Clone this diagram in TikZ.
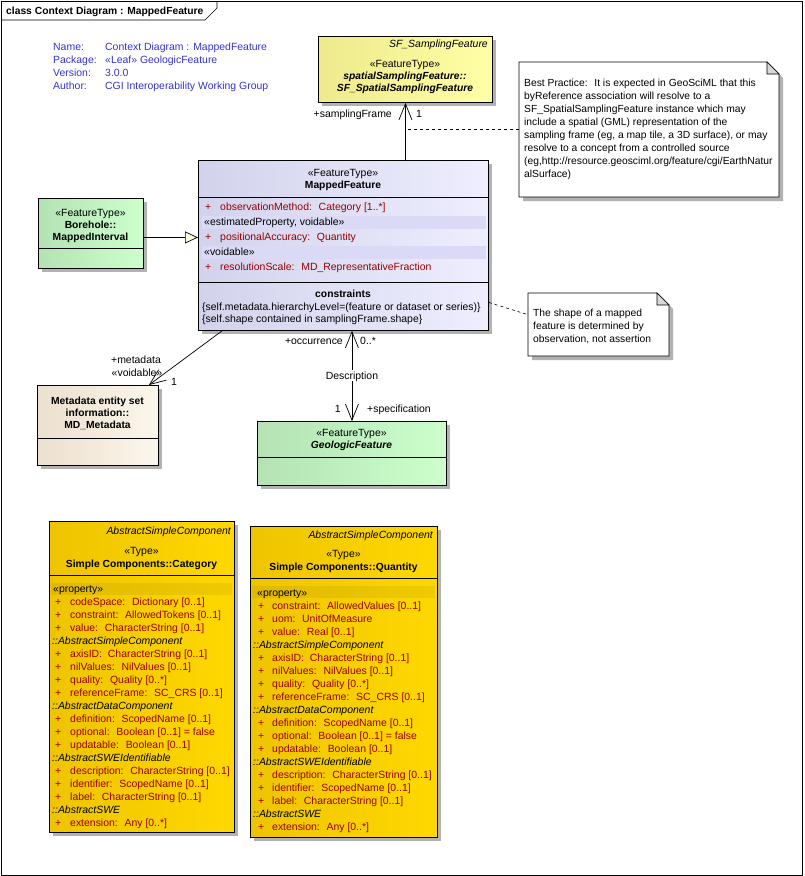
\documentclass[tikz,border=0pt]{standalone}
\usepackage{fontspec}
\setmainfont{Liberation Sans}
\usetikzlibrary{arrows.meta,shadows}

\definecolor{mfLeft}{HTML}{D2D2EC}
\definecolor{mfRight}{HTML}{EEEEFF}
\definecolor{mfBand}{HTML}{DADAF6}
\definecolor{grLeft}{HTML}{B4E2B4}
\definecolor{grRight}{HTML}{CCFFCC}
\definecolor{mdLeft}{HTML}{ECE0CE}
\definecolor{mdRight}{HTML}{FCF6EC}
\definecolor{sfLeft}{HTML}{EEEA8C}
\definecolor{sfRight}{HTML}{FFFFA6}
\definecolor{ylLeft}{HTML}{EEC400}
\definecolor{ylRight}{HTML}{FFD800}
\definecolor{attrRed}{HTML}{990000}
\definecolor{infoBlue}{HTML}{3333CC}

\newcommand\umlfont{\fontsize{10.45}{12.4}\selectfont}
\newcommand\umlboldfont{\fontsize{10.3}{12.4}\selectfont\bfseries}

\tikzset{
  classbox/.style={draw, line width=0.9pt, anchor=north west, inner sep=0pt,
    drop shadow={shadow xshift=4pt, shadow yshift=-4pt, fill=black!30, opacity=1}},
  umltxt/.style={inner sep=0pt, text height=8pt, text depth=1pt, font=\umlfont},
  umlbold/.style={umltxt, font=\umlboldfont},
  umlital/.style={umltxt, font=\umlfont\itshape},
  umlbolditl/.style={umltxt, font=\umlboldfont\itshape},
  umlattr/.style={umltxt, anchor=west, text=attrRed},
  umlplus/.style={umltxt, anchor=west, text=attrRed},
  infotxt/.style={umltxt, anchor=west, text=infoBlue},
  notetxt/.style={inner sep=0pt, align=left, anchor=north west, font=\fontsize{10.3}{13}\selectfont},
  notebox/.style={anchor=north west, inner sep=0pt},
  assoc/.style={line width=0.7pt, -{Straight Barb[length=16pt,width=13pt]}},
  assocboth/.style={line width=0.7pt, {Straight Barb[length=16pt,width=13pt]}-{Straight Barb[length=16pt,width=13pt]}},
  general/.style={line width=0.7pt, -{Triangle[length=13pt,width=12pt,fill=white!88!yellow]}},
  notelink/.style={line width=0.6pt, dash pattern=on 3pt off 3pt}
}

\begin{document}
\begin{tikzpicture}[x=1pt, y=-1pt, font=\umlfont]
\useasboundingbox (0,0) rectangle (804,876);

% diagram frame and title tab
\draw[line width=0.6pt] (1,1) rectangle (802,875);
\draw[line width=0.6pt] (1,20) -- (205,20) -- (217,8) -- (217,1);
\node[umlbold, anchor=west] (frameTitle) at (6,11) {class Context Diagram : MappedFeature};

% diagram properties
\node[infotxt] (infoNameKey) at (53,47) {Name:};
\node[infotxt] (infoName) at (105,47) {Context Diagram : MappedFeature};
\node[infotxt] (infoPackageKey) at (53,60) {Package:};
\node[infotxt] (infoPackage) at (105,60) {«Leaf» GeologicFeature};
\node[infotxt] (infoVersionKey) at (53,73) {Version:};
\node[infotxt] (infoVersion) at (105,73) {3.0.0};
\node[infotxt] (infoAuthorKey) at (53,86) {Author:};
\node[infotxt] (infoAuthor) at (105,86) {CGI Interoperability Working Group};

% SF_SamplingFeature
\node[classbox, left color=sfLeft, right color=sfRight, minimum width=174pt, minimum height=66pt] (sf) at (318,36) {};
\node[umlital, anchor=east] (sfAbstract) at (488,44) {SF\_SamplingFeature};
\node[umltxt] (sfStereo) at (405,64) {«FeatureType»};
\node[umlbolditl] (sfName) at (405,76) {spatialSamplingFeature::};
\node[umlbolditl] (sfNameB) at (405,88) {SF\_SpatialSamplingFeature};

% MappedFeature
\node[classbox, left color=mfLeft, right color=mfRight, minimum width=290pt, minimum height=170pt] (mf) at (198,160) {};
\draw[line width=0.9pt] (198,197) -- (488,197);
\draw[line width=0.9pt] (198,282) -- (488,282);
\fill[mfBand] (202,216) rectangle (486,229);
\fill[mfBand] (202,246) rectangle (486,259);
\node[umltxt] (mfStereo) at (343,173) {«FeatureType»};
\node[umlbold] (mfName) at (343,185) {MappedFeature};
\node[umlplus] (mfP1) at (205,207) {+};
\node[umlattr] (mfA1) at (220,207) {observationMethod:~ Category [1..*]};
\node[umltxt, anchor=west] (mfS2) at (204,222) {«estimatedProperty, voidable»};
\node[umlplus] (mfP2) at (205,237) {+};
\node[umlattr] (mfA2) at (220,237) {positionalAccuracy:~ Quantity};
\node[umltxt, anchor=west] (mfS3) at (204,252) {«voidable»};
\node[umlplus] (mfP3) at (205,267) {+};
\node[umlattr] (mfA3) at (220,267) {resolutionScale:~ MD\_RepresentativeFraction};
\node[umlbold] (mfConstr) at (343,294) {constraints};
\node[umltxt, anchor=west] (mfC1) at (202,307) {\{self.metadata.hierarchyLevel=(feature or dataset or series)\}};
\node[umltxt, anchor=west] (mfC2) at (202,319) {\{self.shape contained in samplingFrame.shape\}};

% Borehole::MappedInterval
\node[classbox, left color=grLeft, right color=grRight, minimum width=105pt, minimum height=70pt] (bh) at (38,198) {};
\draw[line width=0.9pt] (38,248) -- (143,248);
\node[umltxt] (bhStereo) at (90.5,213) {«FeatureType»};
\node[umlbold] (bhName) at (90.5,225) {Borehole::};
\node[umlbold] (bhNameB) at (90.5,237) {MappedInterval};

% MD_Metadata
\node[classbox, left color=mdLeft, right color=mdRight, minimum width=121pt, minimum height=80pt] (md) at (37,385) {};
\draw[line width=0.9pt] (37,438) -- (158,438);
\node[umlbold] (mdName) at (97.5,401) {Metadata entity set};
\node[umlbold] (mdNameB) at (97.5,413) {information::};
\node[umlbold] (mdNameC) at (97.5,425) {MD\_Metadata};

% GeologicFeature
\node[classbox, left color=grLeft, right color=grRight, minimum width=189pt, minimum height=64pt] (gf) at (257,421) {};
\draw[line width=0.9pt] (257,457) -- (446,457);
\node[umltxt] (gfStereo) at (351.5,433) {«FeatureType»};
\node[umlbolditl] (gfName) at (351.5,445) {GeologicFeature};

% Simple Components::Category
\node[classbox, left color=ylLeft, right color=ylRight, minimum width=185pt, minimum height=311pt] (cat) at (49,521) {};
\draw[line width=0.9pt] (49,575) -- (234,575);
\fill[black, fill opacity=0.06] (51,583) rectangle (232,595);
\node[umlital, anchor=east] (catAbstract) at (231,531) {AbstractSimpleComponent};
\node[umltxt] (catStereo) at (141.5,551) {«Type»};
\node[umlbold] (catName) at (141.5,564) {Simple Components::Category};
\node[umltxt, anchor=west] (catProp) at (53,589) {«property»};
\foreach \i/\attrtext in {1/{codeSpace:~ Dictionary [0..1]}, 2/{constraint:~ AllowedTokens [0..1]}, 3/{value:~ CharacterString [0..1]}}{
  \node[umlplus] (catP\i) at (55,{589+13*\i}) {+};
  \node[umlattr] (catA\i) at (70,{589+13*\i}) {\attrtext};
}

% Simple Components::Quantity
\node[classbox, left color=ylLeft, right color=ylRight, minimum width=187pt, minimum height=311pt] (qty) at (250,526) {};
\draw[line width=0.9pt] (250,578) -- (437,578);
\fill[black, fill opacity=0.06] (252,586) rectangle (435,598);
\node[umlital, anchor=east] (qtyAbstract) at (433,535) {AbstractSimpleComponent};
\node[umltxt] (qtyStereo) at (343.5,554) {«Type»};
\node[umlbold] (qtyName) at (343.5,567) {Simple Components::Quantity};
\node[umltxt, anchor=west] (qtyProp) at (257,593) {«property»};
\foreach \i/\attrtext in {1/{constraint:~ AllowedValues [0..1]}, 2/{uom:~ UnitOfMeasure}, 3/{value:~ Real [0..1]}}{
  \node[umlplus] (qtyP\i) at (258,{593+13*\i}) {+};
  \node[umlattr] (qtyA\i) at (272,{593+13*\i}) {\attrtext};
}

% inherited attributes, same in both types
\foreach \cls/\px/\ax/\hx/\by in {cat/55/70/52/589, qty/258/272/253/593}{
  \foreach \i/\attrtext in {4/AbstractSimpleComponent, 9/AbstractDataComponent, 13/AbstractSWEIdentifiable, 17/AbstractSWE}
    \node[umlital, anchor=west] (\cls H\i) at (\hx,{\by+13*\i}) {::\attrtext};
  \foreach \i/\attrtext in {5/{axisID:~ CharacterString [0..1]}, 6/{nilValues:~ NilValues [0..1]}, 7/{quality:~ Quality [0..*]}, 8/{referenceFrame:~ SC\_CRS [0..1]}, 10/{definition:~ ScopedName [0..1]}, 11/{optional:~ Boolean [0..1] = false}, 12/{updatable:~ Boolean [0..1]}, 14/{description:~ CharacterString [0..1]}, 15/{identifier:~ ScopedName [0..1]}, 16/{label:~ CharacterString [0..1]}, 18/{extension:~ Any [0..*]}}{
    \node[umlplus] (\cls P\i) at (\px,{\by+13*\i}) {+};
    \node[umlattr] (\cls A\i) at (\ax,{\by+13*\i}) {\attrtext};
  }
}

% notes
\node[notebox, minimum width=260pt, minimum height=135pt] (noteSF) at (519,62) {};
\fill[black!30] (523,66) -- (771,66) -- (783,78) -- (783,201) -- (523,201) -- cycle;
\filldraw[fill=white, line width=0.9pt] (519,62) -- (767,62) -- (779,74) -- (779,197) -- (519,197) -- cycle;
\filldraw[fill=black!15, line width=0.6pt] (767,62) -- (767,74) -- (779,74) -- cycle;
\node[notetxt] (noteSFtext) at (524,79) {Best Practice:~ It is expected in GeoSciML that this\\
byReference association will resolve to a\\
SF\_SpatialSamplingFeature instance which may\\
include a spatial (GML) representation of the\\
sampling frame (eg, a map tile, a 3D surface), or may\\
resolve to a concept from a controlled source\\
(eg,http://resource.geosciml.org/feature/cgi/EarthNatur\\
alSurface)};

\node[notebox, minimum width=141pt, minimum height=63pt] (noteShape) at (528,293) {};
\fill[black!30] (532,297) -- (661,297) -- (673,309) -- (673,360) -- (532,360) -- cycle;
\filldraw[fill=white, line width=0.9pt] (528,293) -- (657,293) -- (669,305) -- (669,356) -- (528,356) -- cycle;
\filldraw[fill=black!15, line width=0.6pt] (657,293) -- (657,305) -- (669,305) -- cycle;
\node[notetxt] (noteShapeText) at (533,309) {The shape of a mapped\\
feature is determined by\\
observation, not assertion};

% connectors
\draw[assoc] (mf.north -| sf.south) -- (sf.south);
\coordinate (genStart) at ([yshift=-4pt]bh.east);
\draw[general] (genStart) -- (genStart -| mf.west);
\draw[assoc] ([xshift=24pt]mf.south west) -- ([xshift=-10pt]md.north east);
\draw[assocboth] (mf.south -| gf.north) -- (gf.north)
  node[midway, fill=white, inner sep=1pt, text height=8pt, text depth=1pt] (descLabel) {Description};
\draw[notelink, shorten >=3pt] (noteSF.west) -- (noteSF.west -| sf.south);
\coordinate (shapeLinkStart) at ([yshift=-57pt]mf.east);
\draw[notelink] (shapeLinkStart) -- ([yshift=10pt]noteShape.west);

% role names and multiplicities
\node[umltxt, anchor=east] (lblSamplingFrame) at (392,114) {+samplingFrame};
\node[umltxt, anchor=west] (lblSamplingOne) at (416,114) {1};
\node[umltxt] (lblMetadata) at (136,360) {+metadata};
\node[umltxt] (lblMetaVoid) at (137,373) {«voidable»};
\node[umltxt, anchor=west] (lblMetaOne) at (171,382) {1};
\node[umltxt, anchor=east] (lblOccurrence) at (343,341) {+occurrence};
\node[umltxt, anchor=west] (lblOccMult) at (360,341) {0..*};
\node[umltxt, anchor=east] (lblSpecOne) at (341,409) {1};
\node[umltxt, anchor=west] (lblSpecification) at (367,409) {+specification};
\end{tikzpicture}
\end{document}
